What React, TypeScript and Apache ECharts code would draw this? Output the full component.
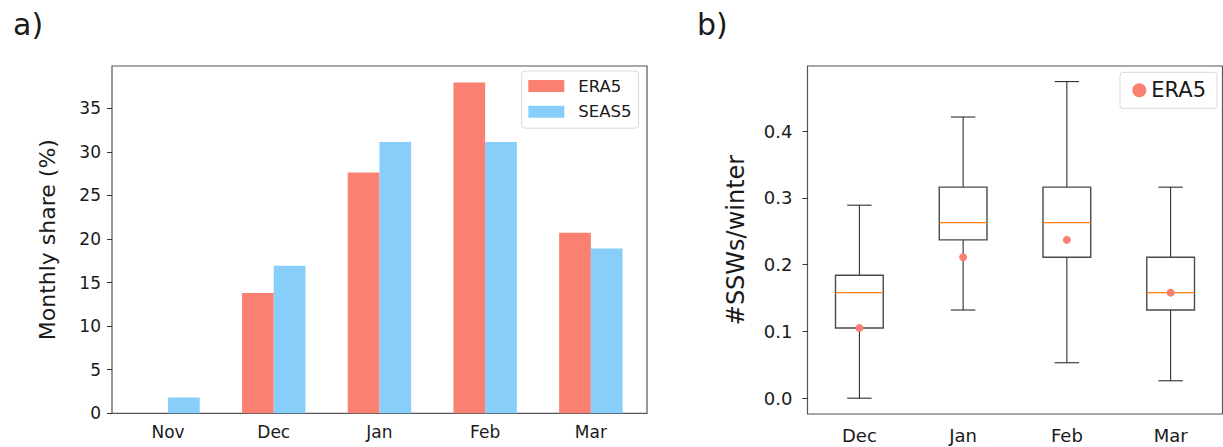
import React, { useEffect, useRef } from "react";
import * as echarts from "echarts";

// ---- Panel a) monthly share of SSWs (%) ----
const months = ["Nov", "Dec", "Jan", "Feb", "Mar"];
const era5Share = [0, 13.8, 27.6, 37.9, 20.7];
const seas5Share = [1.8, 16.9, 31.1, 31.1, 18.9];

// ---- Panel b) SSWs per winter, SEAS5 distribution + ERA5 ----
const boxMonths = ["Dec", "Jan", "Feb", "Mar"];
const whiskerLow = [0.0, 0.132, 0.053, 0.026];
const quartile1 = [0.105, 0.237, 0.211, 0.132];
const medians = [0.158, 0.263, 0.263, 0.158];
const quartile3 = [0.184, 0.316, 0.316, 0.211];
const whiskerHigh = [0.289, 0.421, 0.474, 0.316];
const era5Rate = [0.105, 0.211, 0.237, 0.158];

const FONT = "DejaVu Sans";
const TXT = "#1a1a1a";
const FRAME = "#555555";
const TICK = "#333333";
const RED = "#FA8072";
const BLUE = "#87CEFA";

export default function App() {
  const ref = useRef<HTMLDivElement>(null);
  useEffect(() => {
    if (!ref.current) return;
    document.body.style.margin = "0";
    const chart = echarts.init(ref.current, undefined, { renderer: "svg" });
    const boxData = boxMonths.map((_, i) => [
      i,
      whiskerLow[i],
      quartile1[i],
      medians[i],
      quartile3[i],
      whiskerHigh[i],
    ]);
    const hidden = { show: false };
    const option: any = {
      animation: false,
      textStyle: { fontFamily: FONT },
      grid: [
        { left: 112, top: 66, width: 535, height: 347.3, show: true, borderColor: FRAME, borderWidth: 1.2, backgroundColor: "transparent" },
        { left: 115.2, top: 66, width: 528.5, height: 347.3 },
        { left: 112, top: 108.3, width: 535, height: 305 },
        { left: 807.5, top: 66, width: 415, height: 348, show: true, borderColor: FRAME, borderWidth: 1.2, backgroundColor: "transparent" },
        { left: 807.5, top: 131.1, width: 415, height: 267.1 },
      ],
      xAxis: [
        { gridIndex: 0, type: "value", min: 0, max: 1, show: false },
        {
          gridIndex: 1,
          type: "category",
          data: months,
          axisLine: hidden,
          axisTick: { alignWithLabel: true, length: 5, lineStyle: { color: TICK } },
          axisLabel: { fontSize: 17, color: TXT, margin: 10, fontFamily: FONT },
        },
        { gridIndex: 2, type: "value", min: 0, max: 1, show: false },
        {
          gridIndex: 3,
          type: "category",
          data: boxMonths,
          axisLine: hidden,
          axisTick: { alignWithLabel: true, length: 5, lineStyle: { color: TICK } },
          axisLabel: { fontSize: 18, color: TXT, margin: 12, fontFamily: FONT },
        },
        { gridIndex: 4, type: "value", min: 0, max: 1, show: false },
      ],
      yAxis: [
        {
          gridIndex: 0,
          type: "value",
          min: 0,
          max: 39.8,
          name: "Monthly share (%)",
          nameLocation: "middle",
          nameGap: 54,
          nameTextStyle: { fontSize: 22, color: TXT, fontFamily: FONT },
          axisLine: hidden,
          axisTick: hidden,
          axisLabel: hidden,
          splitLine: hidden,
        },
        { gridIndex: 1, type: "value", min: 0, max: 39.8, show: false },
        {
          gridIndex: 2,
          type: "value",
          min: 0,
          max: 35,
          interval: 5,
          axisLine: hidden,
          axisTick: { show: true, length: 5, lineStyle: { color: TICK } },
          axisLabel: { fontSize: 17, color: TXT, margin: 11, fontFamily: FONT },
          splitLine: hidden,
        },
        {
          gridIndex: 3,
          type: "value",
          min: -0.0237,
          max: 0.4974,
          name: "#SSWs/winter",
          nameLocation: "middle",
          nameGap: 60,
          nameTextStyle: { fontSize: 24, color: TXT, fontFamily: FONT },
          axisLine: hidden,
          axisTick: hidden,
          axisLabel: hidden,
          splitLine: hidden,
        },
        {
          gridIndex: 4,
          type: "value",
          min: 0,
          max: 0.4,
          interval: 0.1,
          axisLine: hidden,
          axisTick: { show: true, length: 5, lineStyle: { color: TICK } },
          axisLabel: { fontSize: 18, color: TXT, margin: 15, fontFamily: FONT, formatter: (v: number) => v.toFixed(1) },
          splitLine: hidden,
        },
      ],
      legend: [
        {
          orient: "vertical",
          left: 521.7,
          top: 71,
          data: [
            { name: "ERA5", icon: "rect" },
            { name: "SEAS5", icon: "rect" },
          ],
          itemWidth: 36,
          itemHeight: 12,
          itemGap: 6.7,
          padding: [5.5, 7, 7, 6.6],
          borderColor: "#d9d9d9",
          borderWidth: 1,
          borderRadius: 3,
          backgroundColor: "rgba(255,255,255,0.8)",
          textStyle: { fontSize: 16.5, lineHeight: 19, color: TXT, fontFamily: FONT, padding: [0, 0, 0, 9] },
        },
        {
          orient: "vertical",
          left: 1120,
          top: 72.3,
          data: [{ name: "ERA5", icon: "circle" }],
          itemWidth: 14,
          itemHeight: 14,
          padding: [6, 11, 6, 12.3],
          borderColor: "#d9d9d9",
          borderWidth: 1,
          borderRadius: 3,
          backgroundColor: "rgba(255,255,255,0.8)",
          textStyle: { fontSize: 21, lineHeight: 24, color: TXT, fontFamily: FONT },
        },
      ],
      graphic: [
        { type: "text", left: 13, top: 9, style: { text: "a)", fontSize: 30, fill: TXT, fontFamily: FONT } },
        { type: "text", left: 697, top: 9, style: { text: "b)", fontSize: 30, fill: TXT, fontFamily: FONT } },
      ],
      series: [
        {
          name: "ERA5",
          type: "bar",
          xAxisIndex: 1,
          yAxisIndex: 1,
          data: era5Share,
          barWidth: "30%",
          barGap: "0%",
          itemStyle: { color: RED },
        },
        {
          name: "SEAS5",
          type: "bar",
          xAxisIndex: 1,
          yAxisIndex: 1,
          data: seas5Share,
          barWidth: "30%",
          barGap: "0%",
          itemStyle: { color: BLUE },
        },
        {
          name: "SEAS5 distribution",
          type: "custom",
          xAxisIndex: 3,
          yAxisIndex: 3,
          data: boxData,
          encode: { x: 0, y: [1, 2, 3, 4, 5] },
          renderItem: (params: any, api: any) => {
            const idx = api.value(0);
            const lo = api.coord([idx, api.value(1)]);
            const q1 = api.coord([idx, api.value(2)]);
            const md = api.coord([idx, api.value(3)]);
            const q3 = api.coord([idx, api.value(4)]);
            const hi = api.coord([idx, api.value(5)]);
            const band = api.size([1, 0])[0];
            const cx = lo[0];
            const bw = band * 0.46;
            const cw = band * 0.235;
            const wStyle = { stroke: "#1a1a1a", lineWidth: 1 };
            return {
              type: "group",
              children: [
                { type: "line", shape: { x1: cx, y1: lo[1], x2: cx, y2: q1[1] }, style: wStyle },
                { type: "line", shape: { x1: cx, y1: q3[1], x2: cx, y2: hi[1] }, style: wStyle },
                { type: "line", shape: { x1: cx - cw / 2, y1: lo[1], x2: cx + cw / 2, y2: lo[1] }, style: wStyle },
                { type: "line", shape: { x1: cx - cw / 2, y1: hi[1], x2: cx + cw / 2, y2: hi[1] }, style: wStyle },
                {
                  type: "rect",
                  shape: { x: cx - bw / 2, y: q3[1], width: bw, height: q1[1] - q3[1] },
                  style: { fill: "none", stroke: "#4a4a4a", lineWidth: 1.4 },
                },
                {
                  type: "line",
                  shape: { x1: cx - bw / 2, y1: md[1], x2: cx + bw / 2, y2: md[1] },
                  style: { stroke: "#FF7F0E", lineWidth: 1.2 },
                },
              ],
            };
          },
        },
        {
          name: "ERA5",
          type: "scatter",
          xAxisIndex: 3,
          yAxisIndex: 3,
          data: era5Rate,
          symbolSize: 8,
          itemStyle: { color: RED, opacity: 1 },
          z: 10,
        },
      ],
    };
    chart.setOption(option);
    return () => chart.dispose();
  }, []);
  return (
    <div
      ref={ref}
      style={{ position: "fixed", left: 0, top: 0, width: 1223, height: 447, background: "#fff" }}
    />
  );
}
